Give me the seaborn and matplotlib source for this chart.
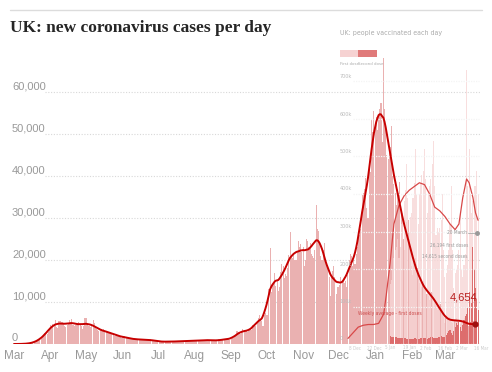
import numpy as np
import pandas as pd
import matplotlib
matplotlib.use('Agg')
import matplotlib.pyplot as plt
import seaborn as sns
from matplotlib.patches import Rectangle
from matplotlib.lines import Line2D

# daily new cases, in hundreds (1 Mar 2020 - 27 Mar 2021)
cases_mar20 = [0, 0, 0, 0, 0, 0, 0, 0, 1, 1, 0, 1, 1, 1, 2, 2, 3, 4, 6, 7,
               9, 9, 10, 12, 15, 22, 26, 26, 25, 28, 33]
cases_apr20 = [46, 43, 48, 45, 57, 40, 37, 55, 55, 52, 53, 47, 42, 40, 46,
               50, 56, 53, 59, 45, 44, 46, 46, 50, 53, 46, 44, 36, 42, 61]
cases_may20 = [62, 47, 42, 44, 40, 42, 56, 50, 40, 35, 34, 30, 34, 35, 33, 35,
               30, 28, 27, 28, 26, 28, 25, 24, 20, 20, 24, 21, 18, 17, 15]
cases_jun20 = [16, 19, 18, 16, 14, 13, 14, 13, 11, 12, 13, 12, 11, 10, 10,
               10, 11, 12, 10, 12, 10, 9, 9, 8, 12, 9, 9, 7, 8, 8]
cases_jul20 = [7, 6, 5, 6, 5, 4, 6, 6, 6, 6, 6, 6, 5, 5, 5, 5, 8, 8, 7, 8,
               4, 4, 7, 8, 8, 8, 6, 6, 7, 8, 8]
cases_aug20 = [7, 7, 8, 9, 7, 8, 9, 9, 8, 8, 10, 10, 10, 10, 8, 10, 7, 8, 8, 8,
               11, 9, 9, 9, 10, 10, 12, 13, 13, 12, 10]
cases_sep20 = [12, 15, 15, 17, 18, 30, 28, 27, 25, 30, 35, 33, 30, 32, 28,
               30, 33, 34, 45, 42, 45, 44, 50, 62, 68, 60, 55, 42, 70, 75]
cases_oct20 = [69, 68, 130, 229, 125, 140, 143, 170, 138, 152, 127, 135, 171,
               190, 186, 156, 167, 163, 182, 213, 266, 212, 204, 213, 200, 200,
               220, 245, 232, 238, 218]
cases_nov20 = [230, 185, 200, 250, 245, 230, 240, 215, 210, 205, 225, 330,
               275, 270, 240, 210, 200, 225, 240, 200, 190, 180, 160, 115, 160,
               175, 185, 160, 120, 135]
cases_dec20 = [135, 140, 160, 150, 155, 145, 150, 135, 165, 200, 215, 210, 185,
               200, 190, 215, 230, 260, 260, 275, 355, 360, 370, 395, 325, 300,
               415, 410, 535, 505, 555]
cases_jan21 = [520, 540, 510, 545, 560, 575, 480, 680, 560, 520, 450, 440, 455,
               470, 520, 400, 380, 360, 330, 370, 360, 385, 320, 300, 250, 225,
               270, 290, 295, 250, 230]
cases_feb21 = [185, 165, 195, 205, 190, 180, 155, 145, 135, 140, 150, 140, 135,
               120, 115, 105, 125, 125, 122, 110, 95, 90, 80, 90, 95, 90, 75, 65]
cases_mar21 = [50, 62, 60, 63, 65, 55, 52, 50, 55, 60, 62, 58, 55, 48, 52, 55,
               58, 63, 48, 48, 42, 40, 48, 45, 55, 50, 45]

month_labels = ['Mar', 'Apr', 'May', 'Jun', 'Jul', 'Aug', 'Sep', 'Oct', 'Nov',
                'Dec', 'Jan', 'Feb', 'Mar']
y_ticks = [0, 10000, 20000, 30000, 40000, 50000, 60000]
latest_label = '4,654'

# vaccinations, thousands per day (10 Jan - 20 Mar 2021)
first_doses_k = [160, 170, 200, 230, 250, 260, 280,
                 230, 260, 320, 350, 380, 410, 480,
                 390, 300, 340, 350, 390, 430, 520,
                 400, 320, 400, 430, 450, 460, 520,
                 440, 350, 400, 420, 440, 480, 540,
                 420, 290, 310, 300, 310, 330, 400,
                 250, 180, 190, 210, 250, 320, 420,
                 250, 150, 190, 200, 210, 250, 350,
                 200, 180, 210, 240, 760, 420, 520,
                 400, 350, 380, 420, 420, 460, 400]
second_doses_k = [22, 20, 20, 19, 18, 18, 17,
                  17, 16, 16, 15, 15, 15, 14,
                  14, 13, 13, 14, 14, 15, 15,
                  14, 13, 14, 15, 16, 17, 16,
                  15, 14, 16, 17, 18, 19, 17,
                  16, 15, 17, 18, 20, 22, 20,
                  18, 20, 25, 30, 35, 38, 30,
                  25, 35, 45, 55, 50, 60, 45,
                  35, 50, 65, 75, 80, 95, 140,
                  60, 110, 260, 200, 150, 120, 90]
# weekly average of first doses (days after 8 Dec, thousands)
avg_days = [0, 4, 8, 12, 16, 20, 24, 28, 30, 33, 36, 40, 44, 48, 52, 56, 60,
            64, 68, 72, 76, 80, 84, 87, 90, 93, 95, 98, 100, 102]
avg_first_k = [15, 30, 45, 50, 52, 52, 55, 80, 130, 215, 320, 370, 395, 410,
               420, 430, 425, 400, 365, 355, 340, 320, 305, 320, 390, 440, 430,
               390, 350, 330]
vacc_ticks = ['0', '100k', '200k', '300k', '400k', '500k', '600k', '700k']

W, H = 492, 372
RED = '#c70000'
GREY = '#999999'


def fx(px):
    return px / W


def fy(py):
    return 1 - py / H


cases = np.concatenate([cases_mar20, cases_apr20, cases_may20, cases_jun20,
                        cases_jul20, cases_aug20, cases_sep20, cases_oct20,
                        cases_nov20, cases_dec20, cases_jan21, cases_feb21,
                        cases_mar21]) * 100
start = pd.Timestamp('2020-03-01')
df = pd.DataFrame({'day': np.arange(len(cases)), 'cases': cases})
df['avg'] = (df['cases'].rolling(7, center=True, min_periods=1).mean()
             .rolling(7, center=True, min_periods=1).mean())

sns.set_style('white')
plt.rcParams['font.family'] = ['Liberation Sans', 'DejaVu Sans']

fig = plt.figure(figsize=(W / 100, H / 100), dpi=100)

# main chart
PX_DAY = 1.18
rect = [fx(10), fy(344), (480 - 10) / W, (344 - 50) / H]
x0 = -(14 - 10) / PX_DAY
x1 = x0 + 470 / PX_DAY

ax = fig.add_axes(rect)
ax.set_facecolor('none')
ax.bar(df['day'], df['cases'], width=0.9, color='#eab1b1', lw=0, zorder=2)
ax.set_xlim(x0, x1)
ax.set_ylim(0, 70000)

for v in y_ticks:
    gx = 5 if v == 0 else (45 - 14) / PX_DAY
    ax.hlines(v, gx, x1, colors='#d8d8d8', linestyles=(0, (1, 1.5)), lw=0.8,
              zorder=0)
    ax.text(-1.7, v + 600, f'{v:,}', color=GREY, fontsize=8, va='baseline',
            ha='left')
ax.axhline(0, color='#cccccc', lw=0.8, zorder=1)

month_pos = [(d - start).days for d in
             pd.date_range('2020-03-01', '2021-03-01', freq='MS')]
ax.set_xticks(month_pos, month_labels)
ax.set_yticks([])
ax.tick_params(axis='x', length=3, width=0.8, color='#cccccc',
               labelcolor=GREY, labelsize=8.5, pad=1.5)
for s in ax.spines.values():
    s.set_visible(False)

# vaccination inset
V_DAY = 1.275
axv = fig.add_axes([fx(340), fy(344), (480 - 340) / W, (344 - 70) / H])
axv.set_facecolor('none')
vac_days = np.arange(33, 33 + len(first_doses_k))
axv.bar(vac_days, np.array(first_doses_k) * 1000, width=0.85,
        color='#f7d6d6', alpha=0.8, lw=0)
axv.bar(vac_days, np.array(second_doses_k) * 1000, width=0.85,
        color='#d95c5c', alpha=0.85, lw=0)
sns.lineplot(x=avg_days, y=np.array(avg_first_k) * 1000, color='#d84848',
             lw=0.9, ax=axv)
vx0 = -(348 - 340) / V_DAY
axv.set_xlim(vx0, vx0 + 140 / V_DAY)
axv.set_ylim(0, 274 / 37.5 * 100000)
axv.axis('off')

cond = dict(family='DejaVu Sans', fontstretch='condensed')
for k, lab in enumerate(vacc_ticks):
    py = 344 - 37.5 * k
    axv.hlines(k * 100000, (353 - 348) / V_DAY, 102.5, colors='#f4f4f4',
               linestyles=(0, (1, 1)), lw=0.9, zorder=3)
    fig.text(fx(340), fy(py - 5), lab, color='#bbbbbb', fontsize=4.0,
             va='center', ha='left', **cond)

for d in range(0, 102, 14):
    dt = pd.Timestamp('2020-12-08') + pd.Timedelta(days=d)
    fig.text(fx(349 + d * V_DAY), fy(348), f'{dt.day} {dt:%b}',
             color='#cccccc', fontsize=3.3, ha='left', va='center', **cond)

# 7-day average of cases, on top of everything
axl = fig.add_axes(rect)
axl.set_facecolor('none')
sns.lineplot(data=df, x='day', y='avg', color=RED, lw=1.4, ax=axl)
axl.scatter([df['day'].iloc[-1]], [df['avg'].iloc[-1]], s=12,
            color='#a01010', zorder=5)
axl.set_xlim(x0, x1)
axl.set_ylim(0, 70000)
axl.axis('off')

fig.text(fx(477), fy(297), latest_label, color='#b81c1c', fontsize=8,
         ha='right', va='center')

fig.text(fx(340), fy(33), 'UK: people vaccinated each day', color='#aaaaaa',
         fontsize=5.0, va='center', ha='left', **cond)
fig.add_artist(Rectangle((fx(340), fy(57)), 18 / W, 7 / H,
                         transform=fig.transFigure, color='#f6d2d2', lw=0))
fig.add_artist(Rectangle((fx(358), fy(57)), 19 / W, 7 / H,
                         transform=fig.transFigure, color='#e07a7a', lw=0))
fig.text(fx(340), fy(64), 'First dose', color='#aaaaaa', fontsize=3.2,
         va='center', ha='left', **cond)
fig.text(fx(358), fy(64), 'Second dose', color='#aaaaaa', fontsize=3.2,
         va='center', ha='left', **cond)

fig.text(fx(358), fy(313), 'Weekly average - first doses', color='#cc4b4b',
         fontsize=3.6, va='center', ha='left', **cond)
fig.add_artist(Line2D([fx(468), fx(477)], [fy(233), fy(233)],
                      transform=fig.transFigure, color='#aaaaaa', lw=0.6))
fig.add_artist(Line2D([fx(477)], [fy(233)], transform=fig.transFigure,
                      marker='o', markersize=2.5, color='#999999', lw=0))
fig.text(fx(467), fy(233), '20 March', color='#999999', fontsize=3.5,
         va='center', ha='right', **cond)
fig.text(fx(468), fy(245), '26,194 first doses', color='#999999',
         fontsize=3.4, va='center', ha='right', **cond)
fig.text(fx(468), fy(256), '14,615 second doses', color='#999999',
         fontsize=3.4, va='center', ha='right', **cond)

# header
fig.add_artist(Line2D([fx(10), fx(482)], [fy(10), fy(10)],
                      transform=fig.transFigure, color='#dcdcdc', lw=1))
fig.text(fx(10), fy(28), 'UK: new coronavirus cases per day',
         family='Liberation Serif', fontweight='bold', fontsize=12.5,
         va='center', ha='left')

fig.savefig('out.png', dpi=100)
